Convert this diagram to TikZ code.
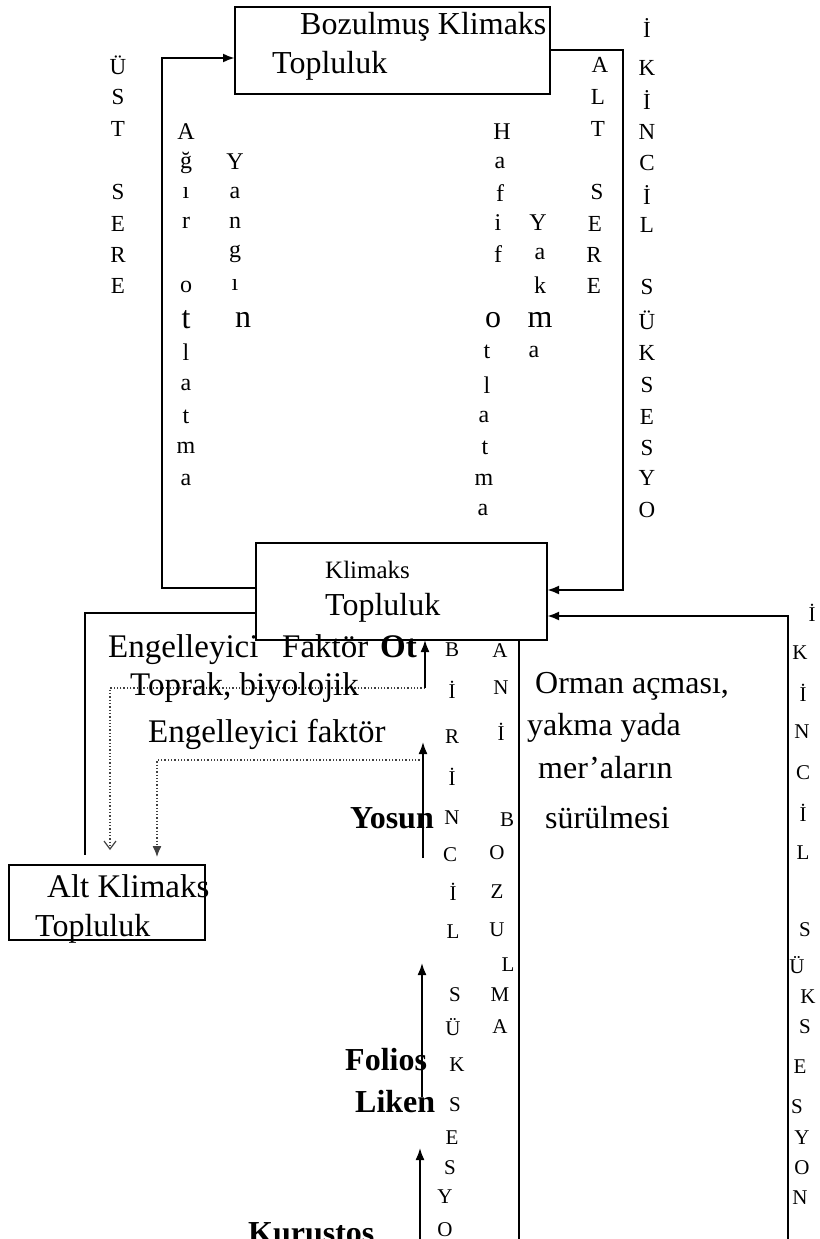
\documentclass[tikz,border=0pt]{standalone}
\usepackage{fontspec}
\setmainfont{Liberation Serif}
\usetikzlibrary{arrows.meta}

\begin{document}
\begin{tikzpicture}[x=1pt,y=-1pt,
  boxnode/.style={draw,line width=2.4pt,inner sep=0pt,outer sep=0pt},
  conn/.style={line width=2.3pt},
  thinconn/.style={line width=1.7pt},
  tip/.style={-{Latex[length=12pt,width=9pt]}},
  dots/.style={dotted,line width=1.3pt,black!75},
  txt/.style={font=\fontsize{32}{36}\selectfont,inner sep=0pt,anchor=base west},
  txtb/.style={font=\fontsize{32}{36}\selectfont\bfseries,inner sep=0pt,anchor=base west},
  capl/.style={font=\fontsize{23}{25}\selectfont,inner sep=0pt},
  lowl/.style={font=\fontsize{24}{26}\selectfont,inner sep=0pt},
  bigl/.style={font=\fontsize{32}{34}\selectfont,inner sep=0pt},
  smalll/.style={font=\fontsize{21}{23}\selectfont,inner sep=0pt}]

\useasboundingbox (0,0) rectangle (819,1239);
\clip (0,0) rectangle (819,1239);
\fill[white] (0,0) rectangle (819,1239);

% ---- boxes ----
\node[boxnode,minimum width=315pt,minimum height=87pt] (top) at (392.5,50.5) {};
\node[boxnode,minimum width=291pt,minimum height=97pt] (klim) at (401.5,591.5) {};
\node[boxnode,minimum width=196pt,minimum height=75pt] (alt) at (107,902.5) {};

% ---- box texts ----
\node[txt] (topA) at (300,35) {Bozulmuş Klimaks};
\node[txt] (topB) at (272,74) {Topluluk};
\node[font=\fontsize{25}{28}\selectfont,inner sep=0pt,anchor=base west] (klimA) at (325,578) {Klimaks};
\node[txt] (klimB) at (325,615) {Topluluk};
\node[txt,font=\fontsize{33}{36}\selectfont] (altA) at (47,897) {Alt Klimaks};
\node[txt] (altB) at (35,936) {Topluluk};

% ---- connectors between the communities ----
\coordinate (c1) at (162,588);
\coordinate (c2) at (162,58);
\draw[conn,tip] (klim.west |- c1) -- (c1) -- (c2) -- (top.west |- c2);

\coordinate (c3) at (623,50);
\coordinate (c4) at (623,590);
\draw[conn,tip] (top.east |- c3) -- (c3) -- (c4) -- (klim.east |- c4);

\coordinate (c5) at (788,1250);
\coordinate (c6) at (788,616);
\draw[conn,tip] (c5) -- (c6) -- (klim.east |- c6);

\coordinate (c7) at (85,613);
\coordinate (c8) at (85,855);
\draw[conn] (klim.west |- c7) -- (c7) -- (c8);

\coordinate (c9) at (519,1250);
\draw[thinconn] (klim.south -| c9) -- (c9);

% ---- succession arrows and dotted paths ----
\coordinate (s1) at (425,688);
\coordinate (s1l) at (110,688);
\coordinate (s1d) at (110,850);
\draw[dots,-{Straight Barb[length=8pt,width=12pt,line width=1.2pt]}] (s1) -- (s1l) -- (s1d);
\draw[thinconn,tip] (s1) -- (klim.south -| s1);

\coordinate (s2b) at (423,858);
\coordinate (s2t) at (423,742);
\coordinate (s2m) at (423,760);
\coordinate (s2l) at (157,760);
\coordinate (s2d) at (157,857);
\draw[dots,-{Latex[length=11pt,width=9pt]}] (s2m) -- (s2l) -- (s2d);
\draw[thinconn,tip] (s2b) -- (s2t);

\coordinate (s3b) at (422,1097);
\coordinate (s3t) at (422,963);
\draw[thinconn,tip] (s3b) -- (s3t);

\coordinate (s4b) at (420,1260);
\coordinate (s4t) at (420,1148);
\draw[thinconn,tip] (s4b) -- (s4t);

% ---- lower texts ----
\node[txt,font=\fontsize{33}{36}\selectfont] (eng1) at (108,657) {Engelleyici};
\node[txt,font=\fontsize{33}{36}\selectfont] (eng2) at (282,657) {Faktör};
\node[txtb,font=\fontsize{33}{36}\selectfont\bfseries] (ot) at (380,657) {Ot};
\node[txt,font=\fontsize{33}{36}\selectfont] (topr) at (130,695) {Toprak, biyolojik};
\node[txt,font=\fontsize{33}{36}\selectfont] (engf) at (148,742) {Engelleyici faktör};

\node[txt] (orm1) at (535,693) {Orman açması,};
\node[txt] (orm2) at (527,735) {yakma yada};
\node[txt] (orm3) at (538,778) {mer’aların};
\node[txt] (orm4) at (545,828) {sürülmesi};

\node[txtb] (yos) at (350,828) {Yosun};
\node[txtb] (fol) at (345,1070) {Folios};
\node[txtb] (lik) at (355,1112) {Liken};
\node[txtb] (kur) at (248,1243) {Kurustos};

% ---- vertical letter columns (upper part) ----
\foreach \ch/\yy [count=\i] in {Ü/65,S/97,T/129,S/192,E/224,R/255,E/286}
  \node[capl] (ust\i) at (118,\yy) {\ch};

\foreach \ch/\yy [count=\i] in {A/132,ğ/163,ı/193,r/223,o/287,l/352,a/385,t/417,m/448,a/480}
  \node[lowl] (agir\i) at (186,\yy) {\ch};
\node[bigl] (agirt) at (186,320) {t};

\foreach \ch/\yy [count=\i] in {Y/162,a/193,n/223,g/254,ı/285}
  \node[lowl] (yang\i) at (235,\yy) {\ch};
\node[bigl] (yangn) at (243,320) {n};

\foreach \ch/\xx/\yy [count=\i] in {H/502/132,a/500/163,f/500/193,i/498/223,f/498/254,t/487/352,l/487/385,a/484/417,t/485/448,m/484/480,a/483/510}
  \node[lowl] (haf\i) at (\xx,\yy) {\ch};
\node[bigl] (hafo) at (493,320) {o};

\foreach \ch/\xx/\yy [count=\i] in {Y/538/223,a/540/254,k/540/285,a/534/352}
  \node[lowl] (yak\i) at (\xx,\yy) {\ch};
\node[bigl] (yakm) at (540,320) {m};

\foreach \ch/\xx/\yy [count=\i] in {A/600/65,L/598/97,T/598/129,S/597/192,E/595/224,R/594/255,E/594/286}
  \node[capl] (alts\i) at (\xx,\yy) {\ch};

\foreach \ch/\yy [count=\i] in {İ/28,K/68,İ/100,N/132,C/163,İ/195,L/225,S/287,Ü/320,K/353,S/385,E/417,S/448,Y/478,O/510}
  \node[capl] (ikia\i) at (647,\yy) {\ch};

% ---- vertical letter columns (lower part) ----
\foreach \ch/\xx/\yy [count=\i] in {B/452/650,İ/452/690,R/452/737,İ/452/777,N/452/818,C/450/855,İ/453/892,L/453/932,S/455/995,Ü/453/1027,K/457/1065,S/455/1105,E/452/1138,S/450/1168,Y/445/1197,O/445/1230}
  \node[smalll] (bir\i) at (\xx,\yy) {\ch};

\foreach \ch/\xx/\yy [count=\i] in {A/500/651,N/501/688,İ/501/732,B/507/820,O/497/853,Z/497/892,U/497/930,L/508/965,M/500/995,A/500/1027}
  \node[smalll] (ani\i) at (\xx,\yy) {\ch};

\foreach \ch/\xx/\yy [count=\i] in {İ/812/613,K/800/653,İ/803/693,N/802/732,C/803/773,İ/803/813,L/803/853,S/805/930,Ü/797/965,K/808/997,S/805/1027,E/800/1067,S/797/1107,Y/802/1138,O/802/1168,N/800/1198}
  \node[smalll] (ikib\i) at (\xx,\yy) {\ch};

\end{tikzpicture}
\end{document}
